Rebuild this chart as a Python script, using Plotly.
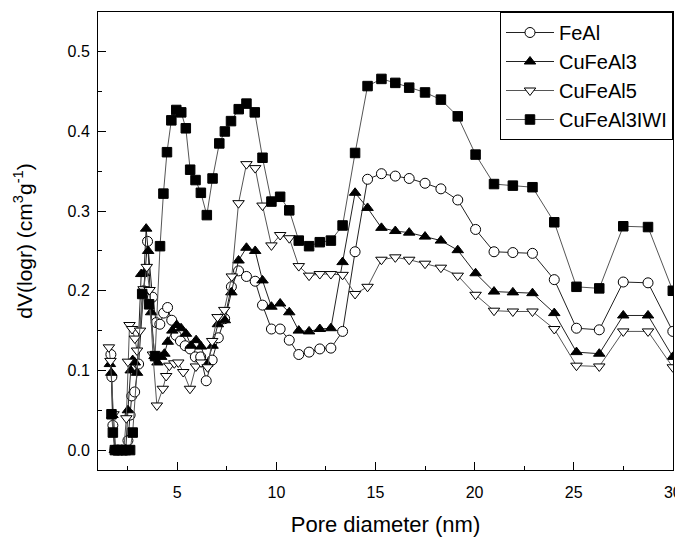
import plotly.graph_objects as go

# BJH pore size distributions
feal_x = [1.65, 1.70, 1.75, 1.85, 2.00, 2.20, 2.40, 2.51, 2.62, 2.70, 2.85, 3.05, 3.30, 3.50,
          3.75, 3.94, 4.12, 4.31, 4.51, 4.72, 4.94, 5.16, 5.40, 5.65, 5.91, 6.18, 6.46, 6.76,
          7.07, 7.39, 7.73, 8.09, 8.49, 8.93, 9.30, 9.75, 10.19, 10.65, 11.13, 11.65, 12.19,
          12.75, 13.34, 13.97, 14.60, 15.30, 16.00, 16.70, 17.50, 18.30, 19.15, 20.05, 20.98,
          21.93, 22.92, 24.02, 25.14, 26.29, 27.50, 28.75, 30.00]
feal_y = [0.120, 0.092, 0.031, 0.0, 0.0, 0.0, 0.0, 0.012, 0.044, 0.068, 0.073, 0.108, 0.200, 0.262,
          0.192, 0.160, 0.158, 0.172, 0.179, 0.163, 0.144, 0.137, 0.131, 0.127, 0.117, 0.117, 0.087, 0.113,
          0.141, 0.165, 0.205, 0.225, 0.218, 0.212, 0.182, 0.152, 0.152, 0.138, 0.120, 0.123, 0.127,
          0.128, 0.149, 0.249, 0.340, 0.347, 0.344, 0.341, 0.335, 0.328, 0.314, 0.277, 0.249,
          0.248, 0.247, 0.214, 0.153, 0.151, 0.211, 0.210, 0.149]

cufeal3_x = [1.60, 1.67, 1.73, 1.85, 2.00, 2.20, 2.40, 2.51, 2.65, 2.75, 2.86, 2.97, 3.18, 3.32,
             3.43, 3.53, 3.68, 3.85, 4.00, 4.19, 4.35, 4.52, 4.75, 4.97, 5.19, 5.44, 5.70, 5.95,
             6.20, 6.50, 6.78, 7.05, 7.40, 7.73, 8.09, 8.49, 8.93, 9.30, 9.75, 10.19, 10.65,
             11.13, 11.65, 12.19, 12.75, 13.34, 13.97, 14.60, 15.30, 16.00, 16.70, 17.50, 18.30,
             19.15, 20.05, 20.98, 21.93, 22.92, 24.02, 25.14, 26.29, 27.50, 28.75, 30.00]
cufeal3_y = [0.108, 0.097, 0.044, 0.0, 0.0, 0.0, 0.0, 0.050, 0.100, 0.113, 0.110, 0.097, 0.221, 0.222,
             0.278, 0.250, 0.173, 0.118, 0.110, 0.117, 0.121, 0.136, 0.150, 0.157, 0.153, 0.146, 0.131, 0.138,
             0.130, 0.108, 0.131, 0.158, 0.163, 0.198, 0.238, 0.254, 0.250, 0.213, 0.180, 0.184, 0.173,
             0.150, 0.149, 0.152, 0.153, 0.236, 0.323, 0.304, 0.279, 0.275, 0.273, 0.268, 0.263,
             0.251, 0.222, 0.199, 0.198, 0.197, 0.172, 0.123, 0.121, 0.169, 0.169, 0.117]

cufeal5_x = [1.55, 1.63, 1.78, 1.90, 2.05, 2.20, 2.30, 2.43, 2.51, 2.59, 2.72, 2.86, 2.97, 3.12,
             3.30, 3.46, 3.60, 3.77, 3.97, 4.27, 4.44, 4.60, 4.85, 5.05, 5.30, 5.64, 5.94, 6.20,
             6.53, 6.76, 7.03, 7.37, 7.75, 8.09, 8.49, 8.93, 9.30, 9.75, 10.19, 10.65, 11.13,
             11.65, 12.19, 12.75, 13.34, 13.97, 14.60, 15.30, 16.00, 16.70, 17.50, 18.30, 19.15,
             20.05, 20.98, 21.93, 22.92, 24.02, 25.14, 26.29, 27.50, 28.75, 30.00]
cufeal5_y = [0.129, 0.112, 0.045, 0.0, 0.0, 0.0, 0.0, 0.040, 0.111, 0.157, 0.152, 0.140, 0.125, 0.150,
             0.202, 0.230, 0.201, 0.120, 0.056, 0.077, 0.093, 0.106, 0.109, 0.110, 0.098, 0.077, 0.105, 0.110,
             0.104, 0.137, 0.167, 0.176, 0.218, 0.310, 0.359, 0.354, 0.307, 0.257, 0.270, 0.266, 0.231,
             0.219, 0.221, 0.221, 0.220, 0.196, 0.205, 0.239, 0.242, 0.239, 0.234, 0.229, 0.219,
             0.195, 0.175, 0.174, 0.174, 0.152, 0.106, 0.105, 0.149, 0.149, 0.104]

iwi_x = [1.68, 1.75, 1.85, 2.00, 2.20, 2.40, 2.62, 2.75, 3.23, 3.58, 3.88, 4.13, 4.30, 4.48,
         4.70, 4.95, 5.20, 5.43, 5.65, 5.92, 6.19, 6.49, 6.78, 7.12, 7.40, 7.71, 8.10, 8.49,
         8.91, 9.30, 9.75, 10.19, 10.65, 11.13, 11.65, 12.19, 12.75, 13.34, 13.97, 14.60,
         15.30, 16.00, 16.70, 17.50, 18.30, 19.15, 20.05, 20.98, 21.93, 22.92, 24.02, 25.14,
         26.29, 27.50, 28.75, 30.00]
iwi_y = [0.045, 0.022, 0.0, 0.0, 0.0, 0.0, 0.0, 0.022, 0.196, 0.183, 0.118, 0.256, 0.322, 0.374,
         0.414, 0.427, 0.424, 0.404, 0.352, 0.339, 0.323, 0.295, 0.341, 0.385, 0.400, 0.413, 0.428, 0.435,
         0.424, 0.367, 0.312, 0.318, 0.301, 0.263, 0.256, 0.261, 0.263, 0.282, 0.373, 0.457,
         0.466, 0.461, 0.455, 0.449, 0.440, 0.419, 0.371, 0.334, 0.332, 0.330, 0.286, 0.205,
         0.203, 0.281, 0.280, 0.200]

series = [
    ('FeAl', feal_x, feal_y, 'circle', 'white', '#222222'),
    ('CuFeAl3', cufeal3_x, cufeal3_y, 'triangle-up', 'black', '#222222'),
    ('CuFeAl5', cufeal5_x, cufeal5_y, 'triangle-down', 'white', '#555555'),
    ('CuFeAl3IWI', iwi_x, iwi_y, 'square', 'black', '#555555'),
]

fig = go.Figure()
for name, xs, ys, symbol, fill, line_color in series:
    size = 9.5 if symbol == 'square' else 10
    fig.add_trace(go.Scatter(
        x=xs, y=ys, name=name, mode='lines+markers',
        line=dict(color=line_color, width=1),
        marker=dict(symbol=symbol, size=size, color=fill,
                    line=dict(color='black', width=1))
    ))

# the page body adds an 8px offset, so the figure is sized to the remaining window
font = 'Arial, Liberation Sans, sans-serif'
fig.update_layout(
    width=675, height=530,
    margin=dict(l=90, r=10, t=4, b=68),
    paper_bgcolor='white', plot_bgcolor='white',
    font=dict(family=font, color='black', size=16),
    showlegend=True,
    legend=dict(
        x=1, y=1, xanchor='right', yanchor='top',
        bgcolor='white', bordercolor='black', borderwidth=1,
        font=dict(size=20), itemwidth=48, tracegroupgap=0
    )
)

fig.update_xaxes(
    range=[1, 30.01], tick0=0, dtick=5, automargin=False,
    ticks='inside', ticklen=8, tickwidth=1, tickcolor='black',
    minor=dict(dtick=2.5, ticks='inside', ticklen=4, tickcolor='black'),
    showline=True, linecolor='black', linewidth=1, mirror=True,
    showgrid=False, zeroline=False,
    tickfont=dict(size=16), ticklabelstandoff=8, ticklabeloverflow='allow',
    title=dict(text='Pore diameter (nm)', font=dict(size=22), standoff=16)
)
fig.update_yaxes(
    range=[-0.025, 0.55], tick0=0, dtick=0.1, tickformat='.1f', automargin=False,
    ticks='inside', ticklen=8, tickwidth=1, tickcolor='black',
    minor=dict(dtick=0.05, ticks='inside', ticklen=4, tickcolor='black'),
    showline=True, linecolor='black', linewidth=1, mirror=True,
    showgrid=False, zeroline=False,
    tickfont=dict(size=16), ticklabelstandoff=4,
    title=dict(text='dV(logr) (cm<sup>3</sup>g<sup>-1</sup>)', font=dict(size=21), standoff=29)
)

fig.write_html("out.html")
